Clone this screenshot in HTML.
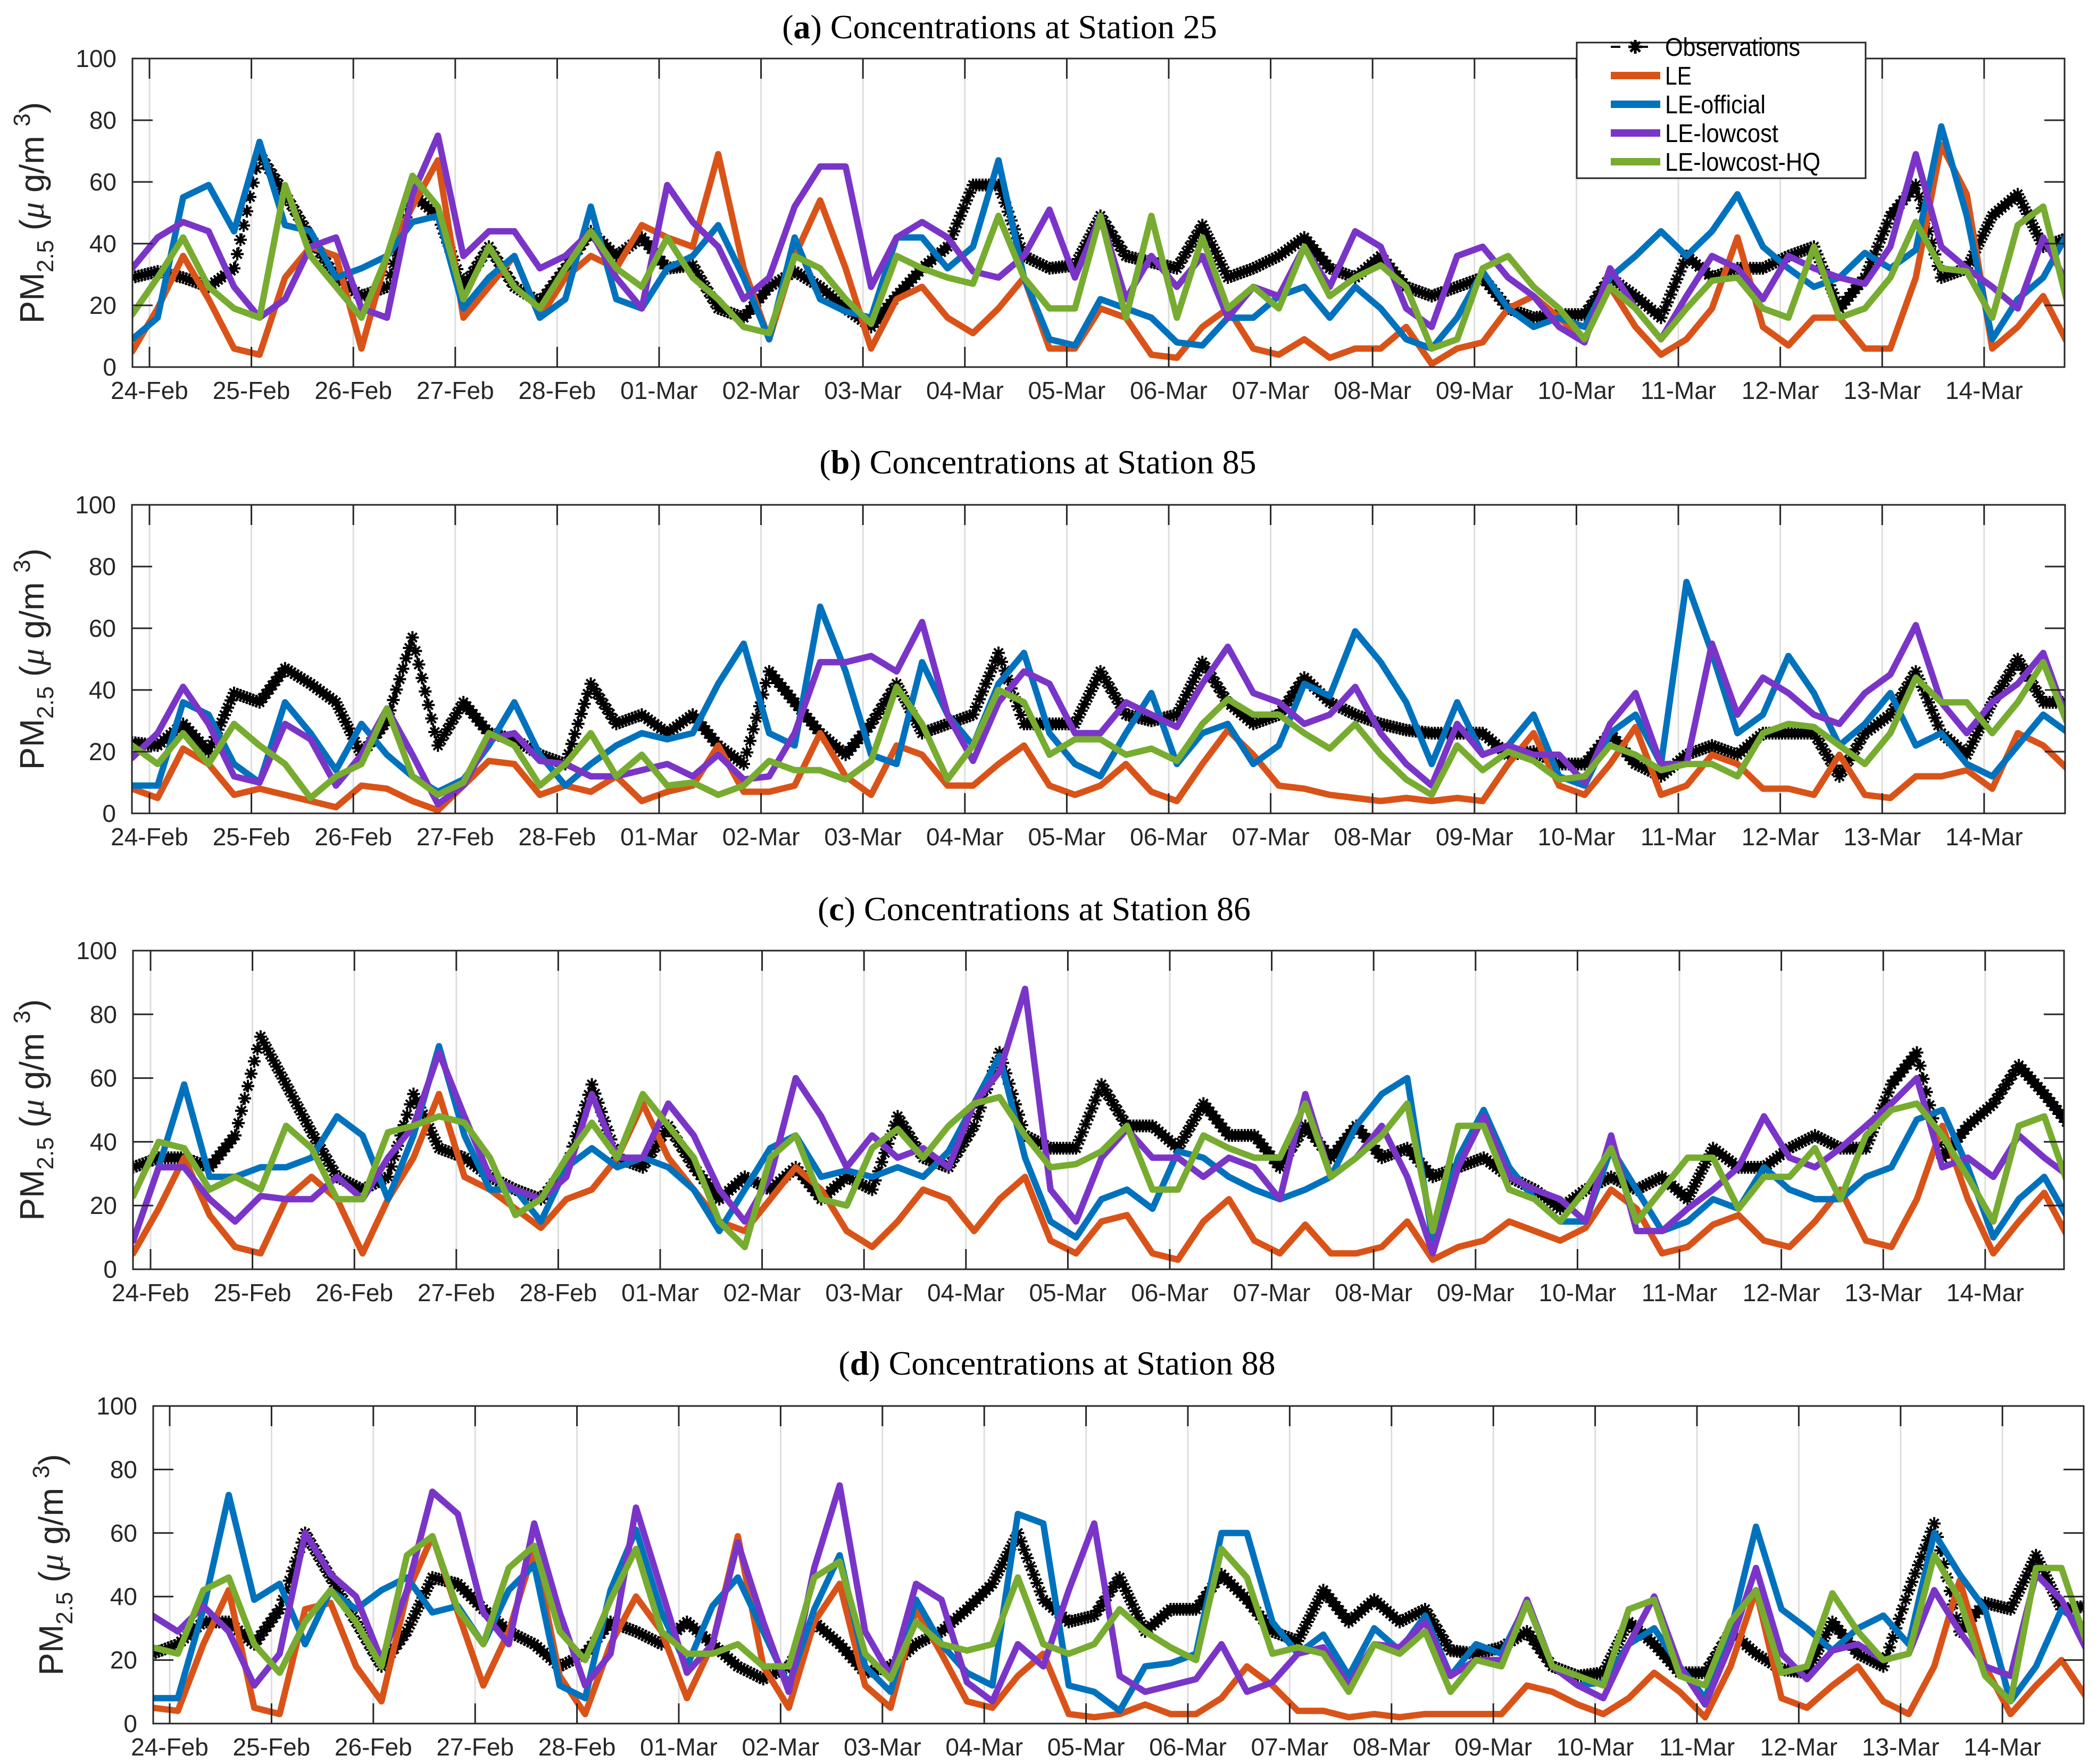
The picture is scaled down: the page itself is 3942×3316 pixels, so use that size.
<!DOCTYPE html>
<html><head><meta charset="utf-8"><style>
html,body{margin:0;padding:0;background:#fff;}
svg{display:block;}
</style></head><body>
<svg id="fig" xmlns="http://www.w3.org/2000/svg" width="3942" height="3316" viewBox="0 0 3942 3316" font-family="Liberation Sans, sans-serif"></svg>
<script>
const dayLabels = ["24-Feb","25-Feb","26-Feb","27-Feb","28-Feb","01-Mar","02-Mar","03-Mar","04-Mar","05-Mar","06-Mar","07-Mar","08-Mar","09-Mar","10-Mar","11-Mar","12-Mar","13-Mar","14-Mar"];
const yTicks = [0,20,40,60,80,100];
const seriesNames = ["Observations","LE","LE-official","LE-lowcost","LE-lowcost-HQ"];
const stationTitles = ["a","b","c","d"];
const stationNumbers = ["25","85","86","88"];
const sampleStartDay = -0.17;
const sampleStepDay = 0.25;

const obsA = [29,31,29,26,32,69,56,42,29,23,26,56,49,26,39,26,21,32,44,36,42,32,33,19,16,26,31,26,19,13,23,32,39,59,59,36,32,33,49,36,
 34,32,46,29,32,36,42,32,29,36,26,23,26,29,19,16,17,17,29,23,16,36,29,32,32,36,39,19,29,49,59,29,32,49,56,39,42];
const leA = [5,19,36,22,6,4,29,39,36,6,36,52,67,16,26,36,16,29,36,32,46,42,39,69,32,9,36,54,32,6,22,26,16,11,19,29,6,6,19,16,
 4,3,13,19,6,4,9,3,6,6,13,1,6,8,19,23,16,9,26,13,4,9,19,42,13,7,16,16,6,6,29,72,56,6,13,23,7];
const offA = [9,16,55,59,44,73,46,44,29,32,36,47,49,19,29,36,16,22,52,22,19,32,36,46,29,9,42,22,18,16,42,42,32,39,67,29,9,7,22,19,
 16,8,7,16,16,23,26,16,26,19,9,6,16,31,19,13,16,13,29,36,44,36,44,56,39,32,26,29,37,32,38,78,49,9,22,29,44];
const lowA = [32,42,47,44,26,16,22,39,42,19,16,56,75,36,44,44,32,36,44,29,19,59,47,39,22,29,52,65,65,26,42,47,42,31,29,36,51,29,49,22,
 36,26,36,16,26,23,39,26,44,39,19,13,36,39,29,23,13,8,32,19,9,23,36,32,22,36,32,29,27,39,69,39,32,26,19,42,26];
const hqA = [17,29,42,26,19,16,59,36,26,16,36,62,52,22,39,26,19,32,44,32,26,42,29,22,13,11,36,32,22,14,36,32,29,27,49,29,19,19,49,16,
 49,16,42,19,26,19,39,23,29,33,26,6,9,32,36,26,19,9,26,19,9,19,28,29,19,16,39,16,19,29,47,32,31,16,46,52,19];

const obsB = [23,22,29,20,39,36,47,42,36,19,30,57,22,36,26,24,19,16,42,29,32,26,32,22,16,46,36,26,19,29,42,26,29,32,52,29,29,29,46,32,
 30,32,49,36,29,32,44,36,32,29,27,26,26,26,19,20,16,16,26,16,12,19,22,19,26,26,26,12,26,32,46,26,19,36,50,36,36];
const leB = [8,5,21,16,6,8,6,4,2,9,8,4,1,9,17,16,6,9,7,12,4,7,9,22,7,7,9,26,12,6,22,19,9,9,16,22,9,6,9,16,
 7,4,16,27,19,9,8,6,5,4,5,4,5,4,16,26,9,6,16,28,6,9,19,16,8,8,6,19,6,5,12,12,14,8,26,22,14];
const offB = [9,9,36,32,16,10,36,26,14,29,19,12,7,11,22,36,19,9,16,22,26,24,26,42,55,26,22,67,46,19,16,49,32,22,42,52,26,16,12,26,
 39,16,26,29,16,22,42,38,59,49,36,16,36,19,22,32,12,9,26,32,16,75,52,26,32,51,39,22,29,39,22,26,16,12,22,32,26];
const lowB = [18,26,41,29,12,10,29,24,9,19,34,19,3,9,24,26,17,16,12,12,14,16,12,19,11,12,26,49,49,51,46,62,32,17,36,46,42,26,26,36,
 32,28,42,54,39,36,29,32,41,26,16,9,29,19,22,19,19,10,29,39,16,16,55,32,44,39,32,29,39,45,61,36,26,36,42,52,29];
const hqB = [22,16,26,16,29,22,16,5,12,16,34,12,6,10,26,22,9,16,26,12,19,9,10,6,9,17,14,14,11,17,41,29,11,22,40,36,19,24,24,19,
 21,17,29,37,32,32,26,21,29,19,11,6,22,14,20,17,11,12,22,19,14,16,16,12,26,29,28,22,16,26,44,36,36,26,36,49,28];

const obsC = [32,35,35,32,42,73,58,43,29,25,29,55,38,35,29,25,22,32,58,35,32,45,32,22,29,25,32,22,29,25,48,35,32,45,68,42,38,38,58,45,
 45,38,52,42,42,32,45,35,45,35,38,29,32,35,29,25,19,25,29,25,29,22,38,32,32,38,42,38,38,58,68,35,45,52,64,55,45];
const leC = [5,19,35,17,7,5,22,29,22,5,22,35,55,29,25,19,13,22,25,35,52,35,25,15,12,22,32,25,12,7,15,25,22,12,22,29,9,5,15,17,
 5,3,15,22,9,5,14,5,5,7,15,3,7,9,15,12,9,13,25,19,5,7,14,17,9,7,15,25,9,7,22,45,22,5,15,24,9];
const offC = [9,32,58,29,29,32,32,35,48,42,22,42,70,42,25,25,15,32,38,32,35,32,25,12,25,38,42,29,31,29,32,29,37,52,67,35,15,10,22,25,
 19,37,35,29,25,22,25,29,45,55,60,9,35,50,32,22,15,15,38,25,12,15,22,19,32,25,22,22,29,32,47,50,32,10,22,29,15];
const lowC = [9,32,32,22,15,23,22,22,29,22,35,45,68,48,29,25,22,29,55,35,35,52,42,25,15,29,60,48,32,42,35,38,32,52,62,88,25,15,35,44,
 35,35,29,35,32,22,55,29,35,45,29,5,32,48,29,25,22,15,42,12,12,19,25,32,48,35,32,38,45,52,60,32,35,29,42,35,29];
const hqC = [23,40,38,25,29,25,45,38,22,22,43,45,48,46,35,17,22,35,46,35,55,45,35,15,7,35,42,22,20,38,44,35,45,52,54,42,32,33,37,45,
 25,25,42,38,35,35,52,29,35,42,52,12,45,45,25,22,15,25,38,15,25,35,35,19,29,29,38,22,42,50,52,42,29,15,45,48,25];

const obsD = [22,25,32,32,25,36,60,46,32,18,29,46,44,36,29,25,18,22,32,29,25,32,25,18,14,18,32,25,16,18,25,29,36,44,60,39,32,
 34,46,29,36,36,47,39,29,26,42,32,39,32,36,23,22,24,29,18,15,16,32,25,16,16,29,22,17,16,32,22,18,42,63,29,38,36,53,36,37];
const leD = [5,4,25,42,5,3,36,38,18,7,41,59,35,12,29,55,15,3,25,40,29,8,25,59,18,5,32,44,12,5,36,22,7,5,15,22,3,
 2,3,6,3,3,8,18,12,4,4,2,3,2,3,3,3,3,12,10,6,3,8,16,10,2,18,42,8,5,12,18,7,3,18,45,18,3,12,20,8];
const offD = [8,8,36,72,39,44,25,42,36,42,46,35,37,25,42,50,12,8,42,61,35,18,37,46,29,12,36,53,18,10,39,25,16,12,66,63,12,
 10,4,18,19,22,60,60,32,22,28,15,30,23,34,15,25,22,38,18,12,13,25,30,18,8,29,62,36,30,23,30,34,25,60,47,36,7,18,36,30];
const lowD = [34,29,37,29,12,22,60,47,40,20,42,73,66,35,25,63,35,12,22,68,42,16,25,57,32,10,49,75,29,15,44,39,13,7,25,18,42,
 63,15,10,12,14,25,10,13,22,24,12,25,24,32,15,20,20,39,18,12,8,25,40,18,6,25,49,22,14,23,25,20,22,42,29,18,15,47,39,23];
const hqD = [24,22,42,46,25,16,32,42,32,18,53,59,36,25,49,56,29,20,39,55,29,22,22,25,18,18,46,51,22,14,32,25,23,25,46,25,22,
 25,36,29,24,20,55,46,22,24,22,10,25,22,29,10,20,18,38,18,15,12,36,39,15,12,32,42,16,18,41,29,20,22,53,39,15,7,49,49,25];

const panelSeries = [[obsA,leA,offA,lowA,hqA],[obsB,leB,offB,lowB,hqB],[obsC,leC,offC,lowC,hqC],[obsD,leD,offD,lowD,hqD]];

const layout = [
 {l:249,r:3881,t:110,b:690,x0:281,dw:191.6,tx:1879,ty:72,ylx:82},
 {l:248,r:3882,t:949,b:1529,x0:281,dw:191.6,tx:1951,ty:890,ylx:82},
 {l:250,r:3880,t:1787,b:2386,x0:283,dw:191.6,tx:1944,ty:1730,ylx:82},
 {l:288,r:3917,t:2643,b:3240,x0:319,dw:191.4,tx:1987,ty:2584,ylx:118}
];
const colors = ["#000000","#D95319","#0072BD","#7A35C8","#77AC30"];
const NS = "http://www.w3.org/2000/svg";
const svg = document.getElementById('fig');
function mk(tag, attrs, parent){ const e=document.createElementNS(NS,tag); for(const k in attrs) e.setAttribute(k,attrs[k]); (parent||svg).appendChild(e); return e; }
function starPath(x,y,s){
  const d=s*0.7;
  return `M${x-s},${y}L${x+s},${y}M${x},${y-s}L${x},${y+s}M${x-d},${y-d}L${x+d},${y+d}M${x-d},${y+d}L${x+d},${y-d}`;
}

layout.forEach((L,pi)=>{
  const xS = t => L.x0 + t*L.dw;
  const yS = v => L.b - v/100*(L.b-L.t);
  const g = mk('g',{});
  
  
  const clipId='clip'+pi;
  const cp=mk('clipPath',{id:clipId},g); mk('rect',{x:L.l,y:L.t,width:L.r-L.l,height:L.b-L.t},cp);
  dayLabels.forEach((lab,i)=>{
    const x=xS(i);
    const gl=mk('line',{x1:x,x2:x,y1:L.t,y2:L.b,stroke:'#dedede','stroke-width':3},g);
     
  });
  const sg=mk('g',{'clip-path':`url(#${clipId})`},g);
  panelSeries[pi].forEach((vals,si)=>{
    const pts=vals.map((v,k)=>[xS(sampleStartDay+k*sampleStepDay),yS(v)]);
    const d='M'+pts.map(p=>p[0].toFixed(1)+','+p[1].toFixed(1)).join('L');
    if(si===0){
      const ln=mk('path',{d:d,fill:'none',stroke:'#000','stroke-width':4,'stroke-dasharray':'16,10'},sg);
       
      let md='';
      for(let k=0;k<pts.length;k++){
        md+=starPath(pts[k][0],pts[k][1],12);
        if(k<pts.length-1){
          for(let j=1;j<8;j++){
            const f=j/8;
            md+=starPath(pts[k][0]+(pts[k+1][0]-pts[k][0])*f, pts[k][1]+(pts[k+1][1]-pts[k][1])*f,12);
          }
        }
      }
      const mp=mk('path',{d:md,fill:'none',stroke:'#000','stroke-width':4},sg);
       
    } else {
      const ln=mk('path',{d:d,fill:'none',stroke:colors[si],'stroke-width':12,'stroke-linejoin':'round','stroke-linecap':'round'},sg);
      
      
    }
  });
  const box=mk('rect',{x:L.l,y:L.t,width:L.r-L.l,height:L.b-L.t,fill:'none',stroke:'#262626','stroke-width':3},g);
   
  dayLabels.forEach((lab,i)=>{
    const x=xS(i);
    mk('line',{x1:x,x2:x,y1:L.b,y2:L.b-38,stroke:'#262626','stroke-width':3},g);
    mk('line',{x1:x,x2:x,y1:L.t,y2:L.t+38,stroke:'#262626','stroke-width':3},g);
    const tx=mk('text',{x:x,y:L.b+60,'font-size':46,'text-anchor':'middle',fill:'#262626'},g);
    tx.textContent=lab;
     
  });
  yTicks.forEach(v=>{
    const y=yS(v);
    mk('line',{x1:L.l,x2:L.l+38,y1:y,y2:y,stroke:'#262626','stroke-width':3},g);
    mk('line',{x1:L.r,x2:L.r-38,y1:y,y2:y,stroke:'#262626','stroke-width':3},g);
    const tx=mk('text',{x:L.l-30,y:y+16,'font-size':46,'text-anchor':'end',fill:'#262626'},g);
    tx.textContent=v;
     
  });
  const cy=(L.t+L.b)/2;
  const yl=mk('text',{x:0,y:0,transform:`translate(${L.ylx},${cy}) rotate(-90)`,'font-size':64,'text-anchor':'middle',fill:'#262626'},g);
  yl.innerHTML='PM<tspan font-size="44" dy="18">2.5</tspan><tspan dy="-18"> (</tspan><tspan font-family="Liberation Serif, serif" font-style="italic">μ</tspan><tspan> g/m </tspan><tspan font-size="44" dy="-26">3</tspan><tspan dy="26">)</tspan>';
   
  const tt=mk('text',{x:L.tx,y:L.ty,'font-size':64,'text-anchor':'middle','font-family':'Liberation Serif, serif',fill:'#000'},g);
  tt.innerHTML=`(<tspan font-weight="bold">${stationTitles[pi]}</tspan>) Concentrations at Station ${stationNumbers[pi]}`;
   
});

const lg=mk('g',{});
 
mk('rect',{x:2964,y:80,width:543,height:255,fill:'#fff',stroke:'#262626','stroke-width':3},lg);
const legY=[108,162,216,270,324];
const legW=[254,50,189,213,292];
seriesNames.forEach((n,i)=>{
  const y=legY[i]-20;
  const e=mk('g',{},lg);
   
  if(i===0){
    mk('line',{x1:3028,x2:3121,y1:y,y2:y,stroke:'#000','stroke-width':4,'stroke-dasharray':'18,34'},e);
    mk('path',{d:starPath(3074,y,13),stroke:'#000','stroke-width':5,fill:'none'},e);
  } else {
    mk('line',{x1:3028,x2:3121,y1:y,y2:y,stroke:colors[i],'stroke-width':14},e);
  }
  const t=mk('text',{x:3130,y:y+17,'font-size':48,textLength:legW[i],lengthAdjust:'spacingAndGlyphs',fill:'#000'},e);
  t.textContent=n;
});
</script>
</body></html>
